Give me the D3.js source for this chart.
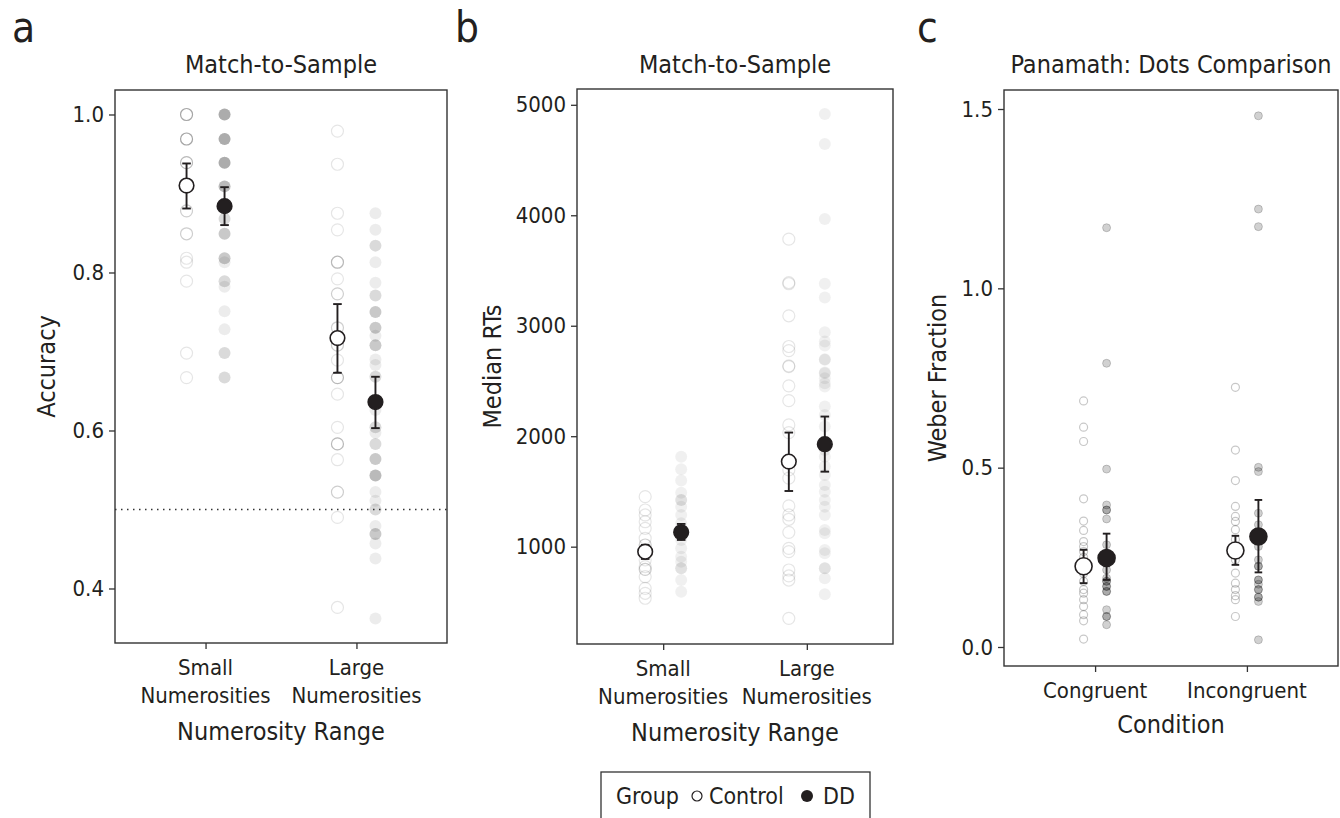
<!DOCTYPE html>
<html lang="en">
<head>
<meta charset="UTF-8">
<title>Numerosity tasks</title>
<script src="https://cdn.jsdelivr.net/npm/d3@7"></script>
<style>
    body { margin: 0; padding: 0; background: #fff; }
    svg { display: block; }
    text {
        font-family: "Liberation Sans Narrow", "DejaVu Sans Condensed", "Roboto Condensed", "Roboto", sans-serif;
        fill: #231f20;
    }
</style>
</head>
<body>
<div id="chart"></div>
<script>
// ---- data ----
const groups = ["Control", "DD"];
const rangeCats = ["Small Numerosities", "Large Numerosities"];
const condCats = ["Congruent", "Incongruent"];

// panel a: accuracy (individual participants, repeats = overlapping dots)
const accSmallControl = [1, 1, 1, 1, 0.969, 0.969, 0.969, 0.969, 0.939, 0.939, 0.939, 0.878, 0.878, 0.849, 0.849, 0.818, 0.813, 0.789, 0.698, 0.667];
const accSmallDD = [1, 1, 1, 1, 1, 0.969, 0.969, 0.969, 0.969, 0.969, 0.939, 0.939, 0.939, 0.939, 0.939, 0.909, 0.909, 0.909, 0.909,
    0.868, 0.868, 0.849, 0.849, 0.849, 0.818, 0.818, 0.818, 0.813, 0.789, 0.789, 0.782, 0.751, 0.728, 0.698, 0.698, 0.667, 0.667];
const accLargeControl = [0.979, 0.937, 0.875, 0.854, 0.813, 0.813, 0.813, 0.792, 0.773, 0.773, 0.730, 0.730, 0.708, 0.708, 0.689,
    0.667, 0.667, 0.667, 0.646, 0.604, 0.583, 0.583, 0.583, 0.563, 0.522, 0.522, 0.490, 0.376];
const accLargeDD = [0.875, 0.854, 0.834, 0.834, 0.813, 0.787, 0.771, 0.771, 0.750, 0.750, 0.750, 0.730, 0.730, 0.730, 0.720,
    0.708, 0.708, 0.708, 0.690, 0.683, 0.668, 0.668, 0.626, 0.604, 0.604, 0.597, 0.583, 0.583, 0.564, 0.564, 0.564,
    0.543, 0.543, 0.543, 0.543, 0.522, 0.511, 0.500, 0.500, 0.479, 0.469, 0.469, 0.469, 0.457, 0.438, 0.362];
const accMean = [[0.910, 0.884], [0.717, 0.636]];      // [range][group]
const accLow = [[0.881, 0.860], [0.673, 0.603]];
const accHigh = [[0.938, 0.908], [0.760, 0.668]];

// panel b: median RTs
const rtSmallControl = [1453, 1332, 1287, 1226, 1166, 1076, 1015, 1015, 955, 955, 880, 819, 795, 795, 728, 623, 578, 533];
const rtSmallDD = [1815, 1701, 1598, 1489, 1423, 1423, 1362, 1287, 1212, 1130, 1061, 985, 909, 864, 804, 804, 698, 592];
const rtLargeControl = [3784, 3391, 3380, 3090, 2812, 2775, 2637, 2630, 2456, 2322, 2102, 2033, 1770, 1695, 1620, 1369, 1287,
    1248, 1130, 985, 955, 789, 735, 698, 351];
const rtLargeDD = [4917, 4645, 3966, 3380, 3255, 2942, 2857, 2821, 2697, 2691, 2576, 2571, 2525, 2480, 2449, 2268, 2193, 2087,
    1928, 1876, 1815, 1725, 1649, 1559, 1498, 1423, 1362, 1287, 1151, 1121, 970, 940, 804, 804, 714, 569];
const rtMean = [[955, 1130], [1770, 1928]];
const rtLow = [[889, 1061], [1504, 1679]];
const rtHigh = [[1015, 1206], [2033, 2178]];

// panel c: Weber fraction
const wfCongControl = [0.686, 0.613, 0.573, 0.413, 0.351, 0.325, 0.294, 0.280, 0.266, 0.250, 0.225, 0.205, 0.183, 0.160,
    0.150, 0.132, 0.113, 0.090, 0.073, 0.022];
const wfCongDD = [1.169, 0.791, 0.496, 0.396, 0.382, 0.382, 0.357, 0.285, 0.248, 0.215, 0.192, 0.183, 0.183, 0.169, 0.169,
    0.155, 0.155, 0.104, 0.085, 0.085, 0.062];
const wfIncControl = [0.724, 0.549, 0.464, 0.392, 0.364, 0.350, 0.327, 0.300, 0.269, 0.243, 0.206, 0.178, 0.160, 0.143,
    0.132, 0.085];
const wfIncDD = [1.481, 1.221, 1.172, 0.501, 0.489, 0.373, 0.341, 0.308, 0.280, 0.243, 0.225, 0.225, 0.187, 0.187, 0.175,
    0.160, 0.160, 0.139, 0.139, 0.127, 0.020];
const wfMean = [[0.225, 0.248], [0.269, 0.308]];
const wfLow = [[0.178, 0.187], [0.229, 0.208]];
const wfHigh = [[0.271, 0.316], [0.310, 0.410]];

const accTicks = [0.4, 0.6, 0.8, 1.0];
const rtTicks = [1000, 2000, 3000, 4000, 5000];
const wfTicks = [0, 0.5, 1.0, 1.5];

// ---- layout ----
const W = 1340, H = 818;
const svg = d3.select("#chart").append("svg")
    .attr("width", W).attr("height", H)
    .attr("viewBox", `0 0 ${W} ${H}`);

const panels = [
    {
        letter: "a", letterX: 12, title: "Match-to-Sample", yTitle: "Accuracy", xTitle: "Numerosity Range",
        left: 115, right: 447, top: 90, bottom: 643, yDomain: [0.331, 1.031], ticks: accTicks, fmt: d3.format(".1f"),
        cats: rangeCats, labels: [["Small", "Numerosities"], ["Large", "Numerosities"]],
        points: [[accSmallControl, accSmallDD], [accLargeControl, accLargeDD]],
        mean: accMean, low: accLow, high: accHigh, dodge: 19, r: 6, rMean: 7.3, alpha: 0.075, refLine: 0.5, yTitleX: 55
    },
    {
        letter: "b", letterX: 455, title: "Match-to-Sample", yTitle: "Median RTs", xTitle: "Numerosity Range",
        left: 577, right: 893, top: 89, bottom: 644, yDomain: [119, 5143], ticks: rtTicks, fmt: d3.format("d"),
        cats: rangeCats, labels: [["Small", "Numerosities"], ["Large", "Numerosities"]],
        points: [[rtSmallControl, rtSmallDD], [rtLargeControl, rtLargeDD]],
        mean: rtMean, low: rtLow, high: rtHigh, dodge: 18, r: 6, rMean: 7.3, alpha: 0.06, refLine: null, yTitleX: 501
    },
    {
        letter: "c", letterX: 917, title: "Panamath: Dots Comparison", yTitle: "Weber Fraction", xTitle: "Condition",
        left: 1004, right: 1338, top: 90, bottom: 666, yDomain: [-0.053, 1.553], ticks: wfTicks, fmt: d3.format(".1f"),
        cats: condCats, labels: [["Congruent"], ["Incongruent"]],
        points: [[wfCongControl, wfCongDD], [wfIncControl, wfIncDD]],
        mean: wfMean, low: wfLow, high: wfHigh, dodge: 11.5, r: 4, rMean: 8.5, alpha: 0.2, refLine: null, yTitleX: 946
    }
];

panels.forEach(p => {
    const g = svg.append("g");
    const x = d3.scalePoint().domain(p.cats).range([p.left, p.right]).padding(0.6);
    const dx = d3.scalePoint().domain(groups).range([-p.dodge, p.dodge]);
    const y = d3.scaleLinear().domain(p.yDomain).range([p.bottom, p.top]);
    const cx = (ci, gi) => x(p.cats[ci]) + dx(groups[gi]);

    // reference line
    if (p.refLine !== null) {
        g.append("line")
            .attr("x1", p.left).attr("x2", p.right)
            .attr("y1", y(p.refLine)).attr("y2", y(p.refLine))
            .attr("stroke", "#333").attr("stroke-width", 1.5)
            .attr("stroke-dasharray", "1.5,4.5");
    }

    // individual points
    p.points.forEach((byGroup, ci) => {
        byGroup.forEach((vals, gi) => {
            const sel = g.append("g").selectAll("circle").data(vals).join("circle")
                .attr("cx", cx(ci, gi))
                .attr("cy", d => y(d))
                .attr("r", p.r);
            if (gi === 0) {
                sel.attr("fill", "none").attr("stroke", "#000")
                    .attr("stroke-opacity", p.letter === "c" ? 0.22 : 0.1)
                    .attr("stroke-width", 1.2);
            } else if (p.letter === "c") {
                sel.attr("fill", "#000").attr("fill-opacity", 0.18)
                    .attr("stroke", "#000").attr("stroke-opacity", 0.18).attr("stroke-width", 1);
            } else {
                sel.attr("fill", "#000").attr("fill-opacity", p.alpha);
            }
        });
    });

    // error bars and means
    const cap = p.letter === "c" ? 3.8 : 4.3;
    p.cats.forEach((c, ci) => {
        groups.forEach((grp, gi) => {
            const xc = cx(ci, gi);
            const eg = g.append("g").attr("stroke", "#231f20").attr("stroke-width", 1.9);
            eg.append("line").attr("x1", xc).attr("x2", xc)
                .attr("y1", y(p.low[ci][gi])).attr("y2", y(p.high[ci][gi]));
            [p.low[ci][gi], p.high[ci][gi]].forEach(v => {
                eg.append("line").attr("x1", xc - cap).attr("x2", xc + cap)
                    .attr("y1", y(v)).attr("y2", y(v));
            });
        });
        groups.forEach((grp, gi) => {
            g.append("circle")
                .attr("cx", cx(ci, gi)).attr("cy", y(p.mean[ci][gi]))
                .attr("r", p.rMean)
                .attr("fill", gi === 0 ? "#fff" : "#231f20")
                .attr("stroke", "#231f20").attr("stroke-width", 1.6);
        });
    });

    // frame
    g.append("rect")
        .attr("x", p.left).attr("y", p.top)
        .attr("width", p.right - p.left).attr("height", p.bottom - p.top)
        .attr("fill", "none").attr("stroke", "#333").attr("stroke-width", 1.4);

    // y axis
    const yAxis = g.append("g")
        .attr("transform", `translate(${p.left},0)`)
        .call(d3.axisLeft(y).tickValues(p.ticks).tickFormat(p.fmt).tickSize(6).tickPadding(5));
    yAxis.select(".domain").remove();
    yAxis.selectAll(".tick line").attr("stroke", "#333").attr("stroke-width", 1.3);
    yAxis.selectAll(".tick text").style("font-size", "22px").attr("fill", "#231f20");

    // x axis
    const xAxis = g.append("g")
        .attr("transform", `translate(0,${p.bottom})`)
        .call(d3.axisBottom(x).tickSize(6).tickFormat(""));
    xAxis.select(".domain").remove();
    xAxis.selectAll(".tick line").attr("stroke", "#333").attr("stroke-width", 1.3);

    p.cats.forEach((c, ci) => {
        const t = g.append("text")
            .attr("x", x(c)).attr("y", p.bottom + 32)
            .attr("text-anchor", "middle").style("font-size", "22px");
        p.labels[ci].forEach((line, li) => {
            t.append("tspan").attr("x", x(c)).attr("dy", li === 0 ? 0 : 28).text(line);
        });
    });

    const nLines = p.labels[0].length;
    g.append("text")
        .attr("x", (p.left + p.right) / 2)
        .attr("y", p.bottom + (nLines === 2 ? 97 : 67))
        .attr("text-anchor", "middle").style("font-size", "25px")
        .text(p.xTitle);

    g.append("text")
        .attr("transform", `translate(${p.yTitleX},${(p.top + p.bottom) / 2}) rotate(-90)`)
        .attr("text-anchor", "middle").style("font-size", "25px")
        .text(p.yTitle);

    g.append("text")
        .attr("x", (p.left + p.right) / 2).attr("y", 73)
        .attr("text-anchor", "middle").style("font-size", "25px")
        .text(p.title);

    g.append("text")
        .attr("x", p.letterX).attr("y", 42)
        .style("font-size", "42px")
        .text(p.letter);
});

// legend
const leg = svg.append("g");
leg.append("rect")
    .attr("x", 601).attr("y", 772).attr("width", 269).attr("height", 80)
    .attr("fill", "#fff").attr("stroke", "#333").attr("stroke-width", 1.3);
leg.append("text").attr("x", 616).attr("y", 804).style("font-size", "23px").text("Group");
leg.append("circle").attr("cx", 697).attr("cy", 796).attr("r", 5)
    .attr("fill", "#fff").attr("stroke", "#231f20").attr("stroke-width", 1.2);
leg.append("text").attr("x", 709).attr("y", 804).style("font-size", "23px").text(groups[0]);
leg.append("circle").attr("cx", 807).attr("cy", 796).attr("r", 6).attr("fill", "#231f20");
leg.append("text").attr("x", 823).attr("y", 804).style("font-size", "23px").text(groups[1]);
</script>
</body>
</html>
